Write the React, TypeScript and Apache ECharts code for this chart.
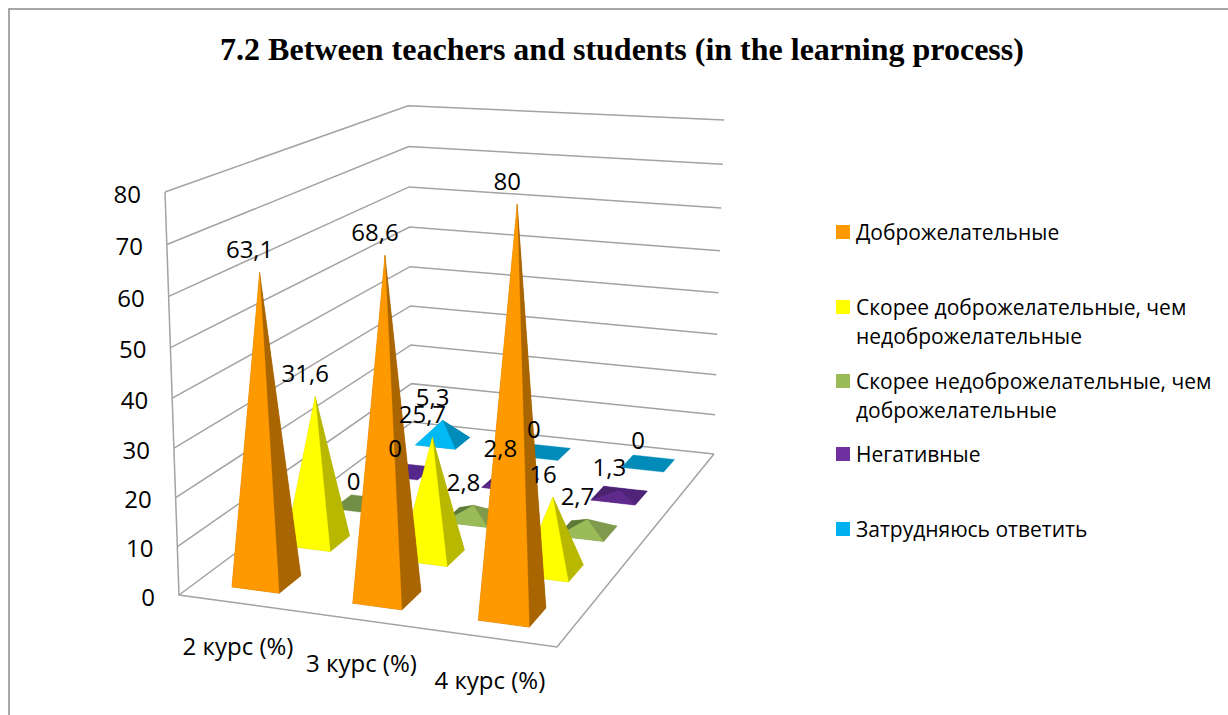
import React, { useEffect, useRef } from "react";
import * as echarts from "echarts";

const titleText = "7.2 Between teachers and students (in the learning process)";
const categories = ["2 курс (%)", "3 курс (%)", "4 курс (%)"];
const legendLines = [
  ["Доброжелательные"],
  ["Скорее доброжелательные, чем", "недоброжелательные"],
  ["Скорее недоброжелательные, чем", "доброжелательные"],
  ["Негативные"],
  ["Затрудняюсь ответить"],
];
const seriesNames = legendLines.map((l) => l.join(" "));
const friendly = [63.1, 68.6, 80];
const ratherFriendly = [31.6, 25.7, 16];
const ratherUnfriendly = [0, 2.8, 2.7];
const negative = [0, 2.8, 1.3];
const hardToSay = [5.3, 0, 0];
const seriesValues = [friendly, ratherFriendly, ratherUnfriendly, negative, hardToSay];
const valueTicks = [0, 10, 20, 30, 40, 50, 60, 70, 80];

const legendColors = ["#FF9900", "#FFFF00", "#9BBB59", "#7030A0", "#00B0F0"];
const frontColors = ["#FF9900", "#FFFF00", "#9BBB59", "#5F2A8C", "#00B9F5"];
const rightColors = ["#A96500", "#B8B800", "#7F9A4C", "#4F2478", "#008BB8"];
const leftColors = ["#C77800", "#C8C800", "#5F7A38", "#4A2270", "#009CCB"];
const baseColors = ["#A96500", "#B8B800", "#728F48", "#56278A", "#008BB8"];

const FONT = "'Open Sans', sans-serif";
const INK = "#000000";
const GRID_LINE = "#A3A3A3";

// corner anchors of the perspective box
const A = [179, 595];
const B = [165, 192];
const C = [412, 422];
const E = [557, 647];
const F = [714, 454];
const G = [724, 120];

const dx1 = E[0] - F[0], dx2 = C[0] - F[0], sx = A[0] - E[0] + F[0] - C[0];
const dy1 = E[1] - F[1], dy2 = C[1] - F[1], sy = A[1] - E[1] + F[1] - C[1];
const det = dx1 * dy2 - dx2 * dy1;
const pi = (sx * dy2 - dx2 * sy) / det;
const pj = (dx1 * sy - sx * dy1) / det;
const pk = ((G[1] - F[1]) * (pi + pj + 1) + A[1] - B[1]) / (B[1] - G[1]);
const ma = E[0] * (pi + 1) - A[0], mb = C[0] * (pj + 1) - A[0], mc = B[0] * (pk + 1) - A[0];
const me = E[1] * (pi + 1) - A[1], mf = C[1] * (pj + 1) - A[1], mg = B[1] * (pk + 1) - A[1];

function project(u: number, v: number, w: number): number[] {
  const d = pi * u + pj * v + pk * w + 1;
  return [
    (ma * u + mb * v + mc * w + A[0]) / d - w * (13 * u + 9 * v - 5 * u * v),
    (me * u + mf * v + mg * w + A[1]) / d + w * 4 * v * (1 - u) - w * (1 - w) * (16 - 6 * v) * (1 - u),
  ];
}

const HALF_U = 0.066;
const HALF_V = 0.041;

function normalised(params: any, api: any, cat: number, val: number) {
  const p = api.coord([cat, val]);
  const cs = params.coordSys;
  return { u: (p[0] - cs.x) / cs.width, w: (cs.y + cs.height - p[1]) / cs.height };
}

function pyramidSeries(idx: number) {
  const v0 = (idx + 0.5) / seriesValues.length;
  return {
    type: "custom",
    name: seriesNames[idx],
    coordinateSystem: "cartesian2d",
    silent: true,
    data: seriesValues[idx].map((val, i) => [i, val]),
    renderItem: (params: any, api: any) => {
      const cat = api.value(0);
      const val = api.value(1);
      const { u, w } = normalised(params, api, cat, val);
      const fl = project(u - HALF_U, v0 - HALF_V, 0);
      const fr = project(u + HALF_U, v0 - HALF_V, 0);
      const br = project(u + HALF_U, v0 + HALF_V, 0);
      const bl = project(u - HALF_U, v0 + HALF_V, 0);
      const apex = project(u, v0, w);
      const poly = (points: number[][], fill: string) => ({
        type: "polygon",
        shape: { points },
        style: { fill, stroke: fill, lineWidth: 0.3 },
      });
      const base = poly([fl, fr, br, bl], baseColors[idx]);
      if (val === 0) return { type: "group", children: [base] };
      return {
        type: "group",
        children: [
          base,
          poly([bl, br, apex], rightColors[idx]),
          poly([fl, bl, apex], leftColors[idx]),
          poly([fr, br, apex], rightColors[idx]),
          poly([fl, fr, apex], frontColors[idx]),
        ],
      };
    },
  };
}

const labelSeries = {
  type: "custom",
  coordinateSystem: "cartesian2d",
  silent: true,
  z: 5,
  data: seriesValues.flatMap((vals, s) => vals.map((val, i) => [i, val, s])),
  renderItem: (params: any, api: any) => {
    const cat = api.value(0);
    const val = api.value(1);
    const s = api.value(2);
    const { u, w } = normalised(params, api, cat, val);
    const apex = project(u, (s + 0.5) / seriesValues.length, w);
    return {
      type: "text",
      x: apex[0] - 10,
      y: apex[1] - 24,
      style: {
        text: String(val).replace(".", ","),
        font: `24px ${FONT}`,
        fill: INK,
        align: "center",
        verticalAlign: "middle",
      },
    };
  },
};

const wallSeries = {
  type: "custom",
  coordinateSystem: "cartesian2d",
  silent: true,
  z: 1,
  data: valueTicks.map((t) => [0, t]),
  renderItem: (params: any, api: any) => {
    const val = api.value(1);
    const { w } = normalised(params, api, 0, val);
    const p0 = project(0, 0, w);
    return {
      type: "group",
      children: [
        {
          type: "polyline",
          shape: { points: [p0, project(0, 1, w), project(1, 1, w)] },
          style: { stroke: GRID_LINE, lineWidth: 1.5, fill: "none" },
        },
        {
          type: "text",
          x: p0[0] - 24,
          y: p0[1] + 1,
          style: {
            text: String(val),
            font: `24px ${FONT}`,
            fill: INK,
            align: "right",
            verticalAlign: "middle",
          },
        },
      ],
    };
  },
};

const floorSeries = {
  type: "custom",
  coordinateSystem: "cartesian2d",
  silent: true,
  z: 1,
  data: [[0, 0]],
  renderItem: () => ({
    type: "polyline",
    shape: { points: [project(0, 0, 1), project(0, 0, 0), project(1, 0, 0), project(1, 1, 0)] },
    style: { stroke: GRID_LINE, lineWidth: 1.5, fill: "none" },
  }),
};

const categorySeries = {
  type: "custom",
  coordinateSystem: "cartesian2d",
  silent: true,
  z: 5,
  data: categories.map((_, i) => [i, 0]),
  renderItem: (params: any, api: any) => {
    const i = api.value(0);
    const { u } = normalised(params, api, i, 0);
    const p = project(u, 0, 0);
    return {
      type: "text",
      x: p[0] - 1,
      y: p[1] + 42,
      style: {
        text: categories[i],
        font: `24px ${FONT}`,
        fill: INK,
        align: "center",
        verticalAlign: "middle",
      },
    };
  },
};

const LEGEND_TOPS = [232, 307, 381, 454, 529];
const legendGraphics = legendLines.flatMap((lines, i) => [
  {
    type: "rect",
    shape: { x: 836, y: LEGEND_TOPS[i] - 7, width: 14, height: 14 },
    style: { fill: legendColors[i] },
  },
  ...lines.map((line, k) => ({
    type: "text",
    x: 856,
    y: LEGEND_TOPS[i] + k * 29,
    style: { text: line, font: `21px ${FONT}`, fill: INK, align: "left", verticalAlign: "middle" },
  })),
]);

export default function App() {
  const ref = useRef<HTMLDivElement>(null);
  useEffect(() => {
    const chart = echarts.init(ref.current!, null, { renderer: "svg" });
    chart.setOption({
      animation: false,
      backgroundColor: "#FFFFFF",
      title: {
        text: titleText,
        left: 617,
        top: 28,
        textAlign: "center",
        textStyle: { fontFamily: "'Liberation Serif', serif", fontSize: 32, fontWeight: "bold", color: INK },
      },
      grid: { left: 0, top: 0, right: 0, bottom: 0 },
      xAxis: { type: "category", data: categories, show: false },
      yAxis: { type: "value", min: 0, max: 80, interval: 10, show: false },
      graphic: [
        {
          type: "polyline",
          shape: { points: [[9, 715], [9, 9], [1228, 9]] },
          style: { stroke: "#8A8A8A", lineWidth: 1.5, fill: "none" },
        },
        ...legendGraphics,
      ],
      series: [
        wallSeries,
        floorSeries,
        ...[4, 3, 2, 1, 0].map(pyramidSeries),
        labelSeries,
        categorySeries,
      ],
    });
    return () => chart.dispose();
  }, []);
  return (
    <div
      ref={ref}
      style={{ position: "fixed", left: 0, top: 0, width: 1228, height: 715 }}
    />
  );
}
